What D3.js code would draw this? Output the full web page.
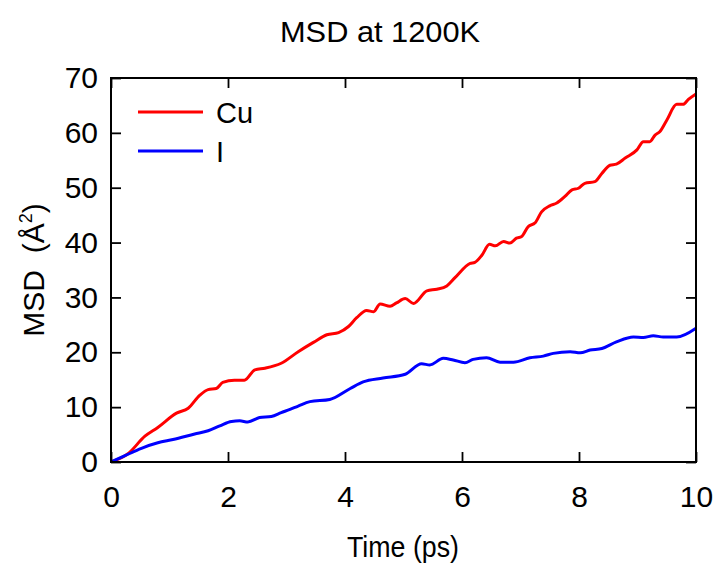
<!DOCTYPE html>
<html>
<head>
<meta charset="utf-8">
<script src="https://cdn.jsdelivr.net/npm/d3@7"></script>
<style>
  html, body { margin: 0; padding: 0; background: #fff; }
  text { font-family: "Liberation Sans", Arial, sans-serif; fill: #000; }
</style>
</head>
<body>
<svg id="chart" width="723" height="565"></svg>
<script>
// ---- Data ----
const cuTime = [0, 0.29, 0.58, 0.80, 1.12, 1.32, 1.52, 1.66, 1.80, 1.91, 2.11, 2.28, 2.46, 2.63, 2.91, 3.20, 3.46, 3.69, 3.89, 4.06, 4.20, 4.37, 4.49, 4.60, 4.77, 4.88, 5.03, 5.17, 5.40, 5.57, 5.74, 5.88, 6.14, 6.22, 6.34, 6.47, 6.57, 6.71, 6.82, 6.93, 7.02, 7.13, 7.25, 7.36, 7.50, 7.62, 7.76, 7.88, 7.99, 8.10, 8.27, 8.39, 8.53, 8.64, 8.79, 8.99, 9.10, 9.21, 9.30, 9.38, 9.50, 9.67, 9.78, 9.87, 10.0];
const cuMSD  = [0, 1.5, 4.7, 6.3, 8.9, 9.8, 12.2, 13.2, 13.4, 14.5, 14.9, 14.9, 16.8, 17.1, 18.0, 20.1, 21.8, 23.2, 23.6, 24.7, 26.3, 27.6, 27.4, 28.8, 28.4, 29.0, 29.8, 28.9, 31.2, 31.5, 32.1, 33.6, 36.2, 36.4, 37.7, 39.7, 39.4, 40.2, 39.9, 40.8, 41.1, 42.9, 43.6, 45.6, 46.7, 47.2, 48.4, 49.6, 49.9, 50.8, 51.1, 52.6, 54.1, 54.3, 55.4, 56.9, 58.4, 58.4, 59.6, 60.2, 62.3, 65.2, 65.2, 66.1, 67.1];

const iTime = [0, 0.23, 0.52, 0.80, 1.06, 1.43, 1.66, 1.86, 2.06, 2.20, 2.34, 2.54, 2.74, 2.91, 3.06, 3.20, 3.40, 3.74, 4.09, 4.31, 4.65, 5.03, 5.31, 5.45, 5.68, 5.85, 6.05, 6.19, 6.42, 6.65, 6.88, 7.16, 7.39, 7.56, 7.85, 8.02, 8.19, 8.39, 8.64, 8.93, 9.10, 9.27, 9.44, 9.67, 10.0];
const iMSD  = [0, 1.1, 2.5, 3.5, 4.1, 5.1, 5.7, 6.6, 7.4, 7.5, 7.3, 8.1, 8.3, 9.0, 9.6, 10.2, 11.0, 11.4, 13.4, 14.6, 15.3, 16.0, 17.9, 17.7, 18.9, 18.6, 18.1, 18.7, 19.0, 18.2, 18.2, 19.0, 19.3, 19.8, 20.1, 19.9, 20.4, 20.7, 21.9, 22.8, 22.7, 23.0, 22.8, 22.8, 24.4];

const xTicks = [0, 2, 4, 6, 8, 10];
const yTicks = [0, 10, 20, 30, 40, 50, 60, 70];
const seriesNames = ["Cu", "I"];
const seriesColors = ["#ff0000", "#0000ff"];

// ---- Layout ----
const svg = d3.select("#chart");
const m = { left: 111, top: 78, right: 696, bottom: 462 };
const x = d3.scaleLinear().domain([0, 10]).range([m.left, m.right]);
const y = d3.scaleLinear().domain([0, 70]).range([m.bottom, m.top]);
const tickLen = 10;
const FONT = "Liberation Sans, Arial, sans-serif";

// Title
svg.append("text").attr("x", 380).attr("y", 42).attr("text-anchor", "middle")
  .attr("font-size", 29).attr("textLength", 200).attr("lengthAdjust", "spacingAndGlyphs")
  .text("MSD at 1200K");

// Lines
const line = d3.line().x(d => x(d[0])).y(d => y(d[1])).curve(d3.curveMonotoneX);
const cuData = cuTime.map((t, i) => [t, cuMSD[i]]);
const iData = iTime.map((t, i) => [t, iMSD[i]]);
svg.append("defs").append("clipPath").attr("id", "clip")
  .append("rect").attr("x", m.left).attr("y", m.top).attr("width", m.right - m.left).attr("height", m.bottom - m.top);
const g = svg.append("g").attr("clip-path", "url(#clip)");
g.append("path").datum(cuData).attr("d", line).attr("fill", "none")
  .attr("stroke", seriesColors[0]).attr("stroke-width", 3).attr("stroke-linejoin", "round");
g.append("path").datum(iData).attr("d", line).attr("fill", "none")
  .attr("stroke", seriesColors[1]).attr("stroke-width", 3).attr("stroke-linejoin", "round");

// Axes (ticks inward, mirrored)
const axStyle = sel => {
  sel.select(".domain").remove();
  sel.selectAll(".tick line").attr("stroke", "#000").attr("stroke-width", 1.8);
};
const xBottom = svg.append("g").attr("transform", `translate(0,${m.bottom})`)
  .call(d3.axisBottom(x).tickValues(xTicks).tickSizeInner(-tickLen).tickSizeOuter(0).tickPadding(24).tickFormat(d3.format("d")));
axStyle(xBottom);
xBottom.selectAll(".tick text").attr("font-size", 30).attr("font-family", FONT).attr("fill", "#000");
const xTop = svg.append("g").attr("transform", `translate(0,${m.top})`)
  .call(d3.axisTop(x).tickValues(xTicks).tickSizeInner(-tickLen).tickSizeOuter(0).tickFormat(""));
axStyle(xTop);
const yLeft = svg.append("g").attr("transform", `translate(${m.left},0)`)
  .call(d3.axisLeft(y).tickValues(yTicks).tickSizeInner(-tickLen).tickSizeOuter(0).tickPadding(13).tickFormat(d3.format("d")));
axStyle(yLeft);
yLeft.selectAll(".tick text").attr("font-size", 30).attr("font-family", FONT).attr("fill", "#000");
const yRight = svg.append("g").attr("transform", `translate(${m.right},0)`)
  .call(d3.axisRight(y).tickValues(yTicks).tickSizeInner(-tickLen).tickSizeOuter(0).tickFormat(""));
axStyle(yRight);

// Frame
svg.append("rect").attr("x", m.left).attr("y", m.top).attr("width", m.right - m.left).attr("height", m.bottom - m.top)
  .attr("fill", "none").attr("stroke", "#000").attr("stroke-width", 2);

// Axis titles
svg.append("text").attr("x", 403).attr("y", 557).attr("text-anchor", "middle")
  .attr("font-size", 29).attr("textLength", 112).attr("lengthAdjust", "spacingAndGlyphs")
  .text("Time (ps)");
const yt = svg.append("text").attr("transform", "translate(44,270) rotate(-90)").attr("text-anchor", "middle")
  .attr("font-size", 30).style("white-space", "pre");
yt.append("tspan").text("MSD  (Å");
yt.append("tspan").attr("font-size", 18).attr("dy", -12).text("2");
yt.append("tspan").attr("dy", 12).text(")");

// Legend
const legY = [112, 151];
seriesNames.forEach((name, i) => {
  svg.append("line").attr("x1", 138).attr("x2", 203).attr("y1", legY[i]).attr("y2", legY[i])
    .attr("stroke", seriesColors[i]).attr("stroke-width", 3);
  svg.append("text").attr("x", 216).attr("y", legY[i] + 11).attr("font-size", 29).text(name);
});
</script>
</body>
</html>
